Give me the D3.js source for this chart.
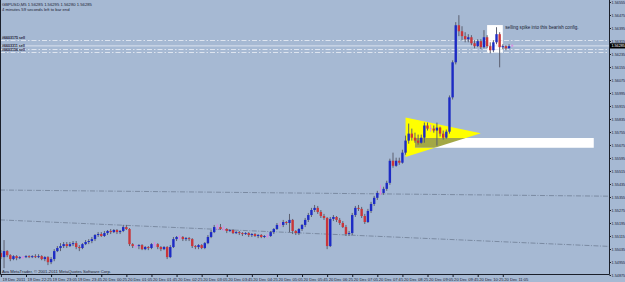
<!DOCTYPE html>
<html>
<head>
<meta charset="utf-8">
<script src="https://cdn.jsdelivr.net/npm/d3@7"></script>
<style>
  html, body { margin: 0; padding: 0; background: #a6b9d3; }
  svg { display: block; font-family: "Liberation Sans", Arial, sans-serif; }
</style>
</head>
<body>
<div id="chart"></div>
<script>
// GBPUSD M5, 19 Dec 2011 21:45 -> 20 Dec 2011 11:20
const firstBar = new Date(2011, 11, 19, 21, 45);

const opens = [
  1.55010,1.54985,1.55022,1.54997,1.54973,1.54991,1.54979,1.54985,1.54985,1.54991,
  1.54985,1.54991,1.54985,1.54991,1.54973,1.54985,1.54954,1.54973,1.55022,1.55041,
  1.55053,1.55065,1.55053,1.55065,1.55071,1.55047,1.55041,1.55065,1.55078,1.55084,
  1.55096,1.55121,1.55127,1.55115,1.55133,1.55146,1.55139,1.55152,1.55139,1.55146,
  1.55170,1.55158,1.55065,1.55053,1.55053,1.55059,1.55034,1.55047,1.55041,1.55065,
  1.55065,1.55047,1.55034,1.55047,1.54985,1.55047,1.55096,1.55109,1.55109,1.55096,
  1.55102,1.55096,1.55053,1.55047,1.55059,1.55041,1.55071,1.55109,1.55139,1.55170,
  1.55170,1.55158,1.55158,1.55146,1.55152,1.55133,1.55139,1.55133,1.55127,1.55133,
  1.55121,1.55127,1.55115,1.55121,1.55109,1.55115,1.55115,1.55139,1.55158,1.55183,
  1.55183,1.55201,1.55195,1.55214,1.55146,1.55133,1.55158,1.55183,1.55214,1.55244,
  1.55275,1.55288,1.55263,1.55238,1.55226,1.55053,1.55220,1.55232,1.55214,1.55195,
  1.55170,1.55127,1.55133,1.55244,1.55288,1.55282,1.55238,1.55201,1.55269,1.55312,
  1.55350,1.55380,1.55380,1.55405,1.55442,1.55578,1.55547,1.55578,1.55566,1.55628,
  1.55702,1.55745,1.55720,1.55702,1.55689,1.55720,1.55795,1.55776,1.55776,1.55764,
  1.55782,1.55745,1.55720,1.55757,1.55968,1.56184,1.56412,1.56375,1.56345,1.56326,
  1.56338,1.56301,1.56283,1.56314,1.56277,1.56338,1.56283,1.56258,1.56307,1.56357,
  1.56277,1.56283,1.56270,1.56285
];
const highs = [
  1.55028,1.55090,1.55028,1.55003,1.54997,1.54997,1.54991,1.54991,1.54997,1.54997,
  1.54997,1.55003,1.55003,1.54997,1.54991,1.54991,1.54985,1.55034,1.55053,1.55071,
  1.55078,1.55078,1.55078,1.55084,1.55084,1.55059,1.55071,1.55090,1.55096,1.55109,
  1.55127,1.55139,1.55139,1.55146,1.55152,1.55158,1.55158,1.55158,1.55152,1.55183,
  1.55183,1.55164,1.55071,1.55059,1.55065,1.55065,1.55053,1.55053,1.55071,1.55078,
  1.55071,1.55053,1.55053,1.55053,1.55059,1.55109,1.55115,1.55121,1.55115,1.55109,
  1.55109,1.55102,1.55059,1.55065,1.55065,1.55078,1.55121,1.55152,1.55183,1.55189,
  1.55189,1.55177,1.55164,1.55158,1.55158,1.55146,1.55146,1.55139,1.55139,1.55139,
  1.55133,1.55133,1.55127,1.55127,1.55121,1.55127,1.55146,1.55164,1.55195,1.55201,
  1.55214,1.55207,1.55251,1.55220,1.55152,1.55164,1.55189,1.55226,1.55257,1.55288,
  1.55306,1.55300,1.55275,1.55251,1.55232,1.55232,1.55244,1.55238,1.55226,1.55207,
  1.55183,1.55146,1.55257,1.55300,1.55306,1.55294,1.55251,1.55282,1.55325,1.55362,
  1.55393,1.55430,1.55418,1.55455,1.55591,1.55628,1.55597,1.55597,1.55646,1.55733,
  1.55807,1.55776,1.55751,1.55739,1.55739,1.55813,1.55813,1.55801,1.55795,1.55813,
  1.55788,1.55764,1.55770,1.55980,1.56196,1.56431,1.56474,1.56406,1.56369,1.56357,
  1.56351,1.56320,1.56326,1.56326,1.56382,1.56351,1.56307,1.56320,1.56400,1.56369,
  1.56295,1.56289,1.56295,1.56295
];
const lows = [
  1.54973,1.54917,1.54985,1.54960,1.54966,1.54966,1.54973,1.54973,1.54979,1.54979,
  1.54979,1.54979,1.54979,1.54966,1.54960,1.54936,1.54942,1.54960,1.55016,1.55022,
  1.55041,1.55041,1.55047,1.55053,1.55034,1.55022,1.55034,1.55059,1.55065,1.55071,
  1.55084,1.55109,1.55109,1.55109,1.55121,1.55127,1.55133,1.55127,1.55127,1.55139,
  1.55152,1.55053,1.55041,1.55041,1.55034,1.55028,1.55028,1.55028,1.55034,1.55047,
  1.55034,1.55022,1.55028,1.54973,1.54979,1.55041,1.55084,1.55090,1.55084,1.55084,
  1.55084,1.55041,1.55034,1.55034,1.55034,1.55034,1.55065,1.55102,1.55133,1.55152,
  1.55152,1.55146,1.55133,1.55139,1.55127,1.55127,1.55121,1.55115,1.55121,1.55109,
  1.55109,1.55109,1.55102,1.55102,1.55102,1.55102,1.55109,1.55127,1.55152,1.55170,
  1.55170,1.55183,1.55139,1.55127,1.55121,1.55121,1.55146,1.55170,1.55201,1.55232,
  1.55263,1.55251,1.55226,1.55214,1.55034,1.55047,1.55207,1.55201,1.55183,1.55164,
  1.55115,1.55115,1.55121,1.55232,1.55269,1.55226,1.55189,1.55195,1.55257,1.55300,
  1.55337,1.55368,1.55368,1.55393,1.55430,1.55535,1.55541,1.55553,1.55560,1.55615,
  1.55683,1.55702,1.55689,1.55677,1.55683,1.55689,1.55764,1.55757,1.55751,1.55671,
  1.55727,1.55708,1.55714,1.55745,1.55955,1.56171,1.56345,1.56320,1.56307,1.56307,
  1.56289,1.56270,1.56277,1.56264,1.56270,1.56270,1.56239,1.56246,1.56295,1.56153,
  1.56264,1.56258,1.56270,1.56280
];
const closes = [
  1.54985,1.55022,1.54997,1.54973,1.54991,1.54979,1.54985,1.54985,1.54991,1.54985,
  1.54991,1.54985,1.54991,1.54973,1.54985,1.54954,1.54973,1.55022,1.55041,1.55053,
  1.55065,1.55053,1.55065,1.55071,1.55047,1.55041,1.55065,1.55078,1.55084,1.55096,
  1.55121,1.55127,1.55115,1.55133,1.55146,1.55139,1.55152,1.55139,1.55146,1.55170,
  1.55158,1.55065,1.55053,1.55053,1.55059,1.55034,1.55047,1.55041,1.55065,1.55065,
  1.55047,1.55034,1.55047,1.54985,1.55047,1.55096,1.55109,1.55109,1.55096,1.55102,
  1.55096,1.55053,1.55047,1.55059,1.55041,1.55071,1.55109,1.55139,1.55170,1.55170,
  1.55158,1.55158,1.55146,1.55152,1.55133,1.55139,1.55133,1.55127,1.55133,1.55121,
  1.55127,1.55115,1.55121,1.55109,1.55115,1.55115,1.55139,1.55158,1.55183,1.55183,
  1.55201,1.55195,1.55214,1.55146,1.55133,1.55158,1.55183,1.55214,1.55244,1.55275,
  1.55288,1.55263,1.55238,1.55226,1.55053,1.55220,1.55232,1.55214,1.55195,1.55170,
  1.55127,1.55133,1.55244,1.55288,1.55282,1.55238,1.55201,1.55269,1.55312,1.55350,
  1.55380,1.55380,1.55405,1.55442,1.55578,1.55547,1.55578,1.55566,1.55628,1.55702,
  1.55745,1.55720,1.55702,1.55689,1.55720,1.55795,1.55776,1.55776,1.55764,1.55782,
  1.55745,1.55720,1.55757,1.55968,1.56184,1.56412,1.56375,1.56345,1.56326,1.56338,
  1.56301,1.56283,1.56314,1.56277,1.56338,1.56283,1.56258,1.56307,1.56357,1.56277,
  1.56283,1.56270,1.56283,1.56285
];

// axis labels
const timeTickLabels = [
  "19 Dec 2011", "19 Dec 22:25", "19 Dec 23:05", "19 Dec 23:45", "20 Dec 00:25",
  "20 Dec 01:05", "20 Dec 01:45", "20 Dec 02:25", "20 Dec 03:05", "20 Dec 03:45",
  "20 Dec 04:25", "20 Dec 05:05", "20 Dec 05:45", "20 Dec 06:25", "20 Dec 07:05",
  "20 Dec 07:45", "20 Dec 08:25", "20 Dec 09:05", "20 Dec 09:45", "20 Dec 10:25",
  "20 Dec 11:05"
];
const priceTicks = [
  1.56555, 1.56475, 1.56395, 1.56315, 1.56235, 1.56155, 1.56075, 1.55995,
  1.55915, 1.55835, 1.55755, 1.55675, 1.55595, 1.55515, 1.55435, 1.55355,
  1.55275, 1.55195, 1.55115, 1.55035, 1.54955, 1.54875
];

// open orders and current bid
const orderTickets = ["#6603175 sell", "#6603311 sell", "#6603156 sell"];
const orderPrices = [1.56320, 1.56266, 1.56245];
const bidPrice = 1.56285;

// drawn objects (time, price anchors)
const triangleTimes = ["2011-12-20T08:30", "2011-12-20T08:30", "2011-12-20T10:30"];
const trianglePrices = [1.55845, 1.55601, 1.55747];
const levelBoxTimes = ["2011-12-20T08:45", "2011-12-20T13:30"];
const levelBoxPrices = [1.55718, 1.55658];
const spikeBoxTimes = ["2011-12-20T10:40", "2011-12-20T11:05"];
const spikeBoxPrices = [1.56413, 1.56241];
const trendTimes = ["2011-12-19T21:45", "2011-12-20T11:20"];
const trendUpper = [1.55398, 1.55366];
const trendLower = [1.55214, 1.55077];

const width = 625, height = 282;
const plotRight = 609.5, plotBottom = 274.5;
const ink = "#1b2233";

const bars = closes.map((c, i) => ({
  t: d3.timeMinute.offset(firstBar, 5 * i),
  o: opens[i], h: highs[i], l: lows[i], c: c
}));

const x = d3.scaleTime()
  .domain([bars[0].t, bars[bars.length - 1].t])
  .range([0.9, 512.2]);
const y = d3.scaleLinear()
  .domain([1.54875, 1.56555])
  .range([275, 2]);

const parse = d3.timeParse("%Y-%m-%dT%H:%M");

const svg = d3.select("#chart").append("svg")
  .attr("width", width)
  .attr("height", height);

svg.append("rect")
  .attr("width", width).attr("height", height)
  .attr("fill", "#a6b9d3");

const plot = svg.append("g");

// clip for objects inside the chart window
svg.append("clipPath").attr("id", "plotClip")
  .append("rect").attr("x", 0).attr("y", 0)
  .attr("width", plotRight).attr("height", plotBottom);

const objects = plot.append("g").attr("clip-path", "url(#plotClip)");

// yellow triangle
const triPts = triangleTimes.map((t, i) => [x(parse(t)), y(trianglePrices[i])]);
objects.append("polygon")
  .attr("points", triPts.map(p => p.join(",")).join(" "))
  .attr("fill", "#ffff00");

svg.append("clipPath").attr("id", "triClip")
  .append("polygon").attr("points", triPts.map(p => p.join(",")).join(" "));

// white level rectangle (blended where it sits on the triangle)
const lbx0 = x(parse(levelBoxTimes[0])), lbx1 = x(parse(levelBoxTimes[1]));
const lby0 = y(levelBoxPrices[0]), lby1 = y(levelBoxPrices[1]);
objects.append("rect")
  .attr("x", lbx0).attr("y", lby0)
  .attr("width", lbx1 - lbx0).attr("height", lby1 - lby0)
  .attr("fill", "#ffffff");
objects.append("rect")
  .attr("clip-path", "url(#triClip)")
  .attr("x", lbx0).attr("y", lby0)
  .attr("width", lbx1 - lbx0).attr("height", lby1 - lby0)
  .attr("fill", "#a3a845");

// white box round the selling spike
const sbx0 = x(parse(spikeBoxTimes[0])), sbx1 = x(parse(spikeBoxTimes[1]));
objects.append("rect")
  .attr("x", sbx0).attr("y", y(spikeBoxPrices[0]))
  .attr("width", sbx1 - sbx0)
  .attr("height", y(spikeBoxPrices[1]) - y(spikeBoxPrices[0]))
  .attr("fill", "#ffffff");

// trend lines, extended to both edges
function drawTrend(prices) {
  const x0 = x(parse(trendTimes[0])), x1 = x(parse(trendTimes[1]));
  const y0 = y(prices[0]), y1 = y(prices[1]);
  const k = (y1 - y0) / (x1 - x0);
  objects.append("line")
    .attr("x1", 0).attr("y1", y0 - k * x0)
    .attr("x2", plotRight).attr("y2", y0 + k * (plotRight - x0))
    .attr("stroke", "#6e7d94")
    .attr("stroke-width", 0.8)
    .attr("stroke-dasharray", "5,1.5,1,1.5");
}
drawTrend(trendUpper);
drawTrend(trendLower);

// order lines + bid line
orderPrices.forEach((p, i) => {
  objects.append("line")
    .attr("x1", 0).attr("x2", plotRight)
    .attr("y1", Math.round(y(p)) + 0.5).attr("y2", Math.round(y(p)) + 0.5)
    .attr("stroke", "#e3e9f2")
    .attr("stroke-width", 0.9)
    .attr("stroke-dasharray", "5,2,1.5,2");
});
objects.append("line")
  .attr("x1", 0).attr("x2", plotRight)
  .attr("y1", y(bidPrice)).attr("y2", y(bidPrice))
  .attr("stroke", "#dfe6f0")
  .attr("stroke-width", 0.9);

// ticket labels, kept from touching each other
const labelYs = [38.8, 47.0, 51.0];
orderTickets.forEach((t, i) => {
  objects.append("text")
    .attr("x", 2).attr("y", labelYs[i])
    .attr("font-size", 3.6)
    .attr("font-weight", "bold")
    .attr("fill", ink)
    .text(t);
});

// candles
const candle = objects.append("g").selectAll("g")
  .data(bars)
  .join("g");

candle.append("rect")
  .attr("x", d => x(d.t) - 0.5)
  .attr("y", d => y(d.h))
  .attr("width", 1)
  .attr("height", d => Math.max(1, y(d.l) - y(d.h)))
  .attr("fill", d => d.o === d.c ? "#d88be0" : "#5c6070");

candle.filter(d => d.o !== d.c).append("rect")
  .attr("x", d => x(d.t) - 1.2)
  .attr("y", d => y(Math.max(d.o, d.c)))
  .attr("width", 2.4)
  .attr("height", d => Math.max(1, Math.abs(y(d.o) - y(d.c))))
  .attr("fill", d => d.c > d.o ? "#1d2bc4" : "#c9363a");

candle.filter(d => d.o === d.c).append("rect")
  .attr("x", d => x(d.t) - 1.2)
  .attr("y", d => y(d.o) - 0.5)
  .attr("width", 2.4)
  .attr("height", 1)
  .attr("fill", "#d88be0");

// annotation text
objects.append("text")
  .attr("x", sbx1 + 2.5)
  .attr("y", y(spikeBoxPrices[0]) + 4)
  .attr("font-size", 4.6)
  .attr("fill", ink)
  .text("selling spike into this bearish config.");

// header + footer texts
plot.append("text")
  .attr("x", 2).attr("y", 6.3)
  .attr("font-size", 4.2)
  .attr("fill", ink)
  .text("GBPUSD,M5  1.56285 1.56295 1.56280 1.56285");
plot.append("text")
  .attr("x", 2).attr("y", 10.8)
  .attr("font-size", 4.2)
  .attr("fill", ink)
  .text("4 minutes 59 seconds left to bar end");
plot.append("text")
  .attr("x", 2).attr("y", 272.8)
  .attr("font-size", 4.2)
  .attr("fill", ink)
  .text("Ava MetaTrader, \u00a9 2001-2011 MetaQuotes Software Corp.");

// frame
plot.append("path")
  .attr("d", `M0.5,0 V${plotBottom} H${plotRight} V0`)
  .attr("fill", "none")
  .attr("stroke", "#1a1f2a")
  .attr("stroke-width", 1);

// price axis
const yAxis = svg.append("g")
  .attr("transform", `translate(${plotRight},0)`)
  .call(d3.axisRight(y)
    .tickValues(priceTicks)
    .tickSize(1.5)
    .tickPadding(0.6)
    .tickFormat(d3.format(".5f")));
yAxis.select(".domain").remove();
yAxis.selectAll("line").attr("stroke", "#1a1f2a");
yAxis.selectAll("text")
  .attr("font-size", 3.75)
  .attr("font-family", "Liberation Sans, Arial, sans-serif")
  .attr("fill", ink);

// bid marker on the price axis
const bidG = svg.append("g").attr("transform", `translate(${plotRight + 0.5},${y(bidPrice)})`);
bidG.append("rect")
  .attr("x", 0).attr("y", -2.6)
  .attr("width", width - plotRight).attr("height", 5.2)
  .attr("fill", "#000");
bidG.append("text")
  .attr("x", 1.4).attr("y", 1.35)
  .attr("font-size", 3.75)
  .attr("fill", "#fff")
  .text(d3.format(".5f")(bidPrice));

// time axis
const timeTicks = timeTickLabels.map((_, i) => bars[i * 8].t);
const xAxis = svg.append("g")
  .attr("transform", `translate(0,${plotBottom})`)
  .call(d3.axisBottom(x)
    .tickValues(timeTicks)
    .tickSize(2.5)
    .tickPadding(1)
    .tickFormat((d, i) => timeTickLabels[i]));
xAxis.select(".domain").remove();
xAxis.selectAll("line").attr("stroke", "#1a1f2a");
xAxis.selectAll("text")
  .attr("text-anchor", "start")
  .attr("dx", 1)
  .attr("font-size", 4.1)
  .attr("font-family", "Liberation Sans, Arial, sans-serif")
  .attr("fill", ink);
</script>
</body>
</html>
